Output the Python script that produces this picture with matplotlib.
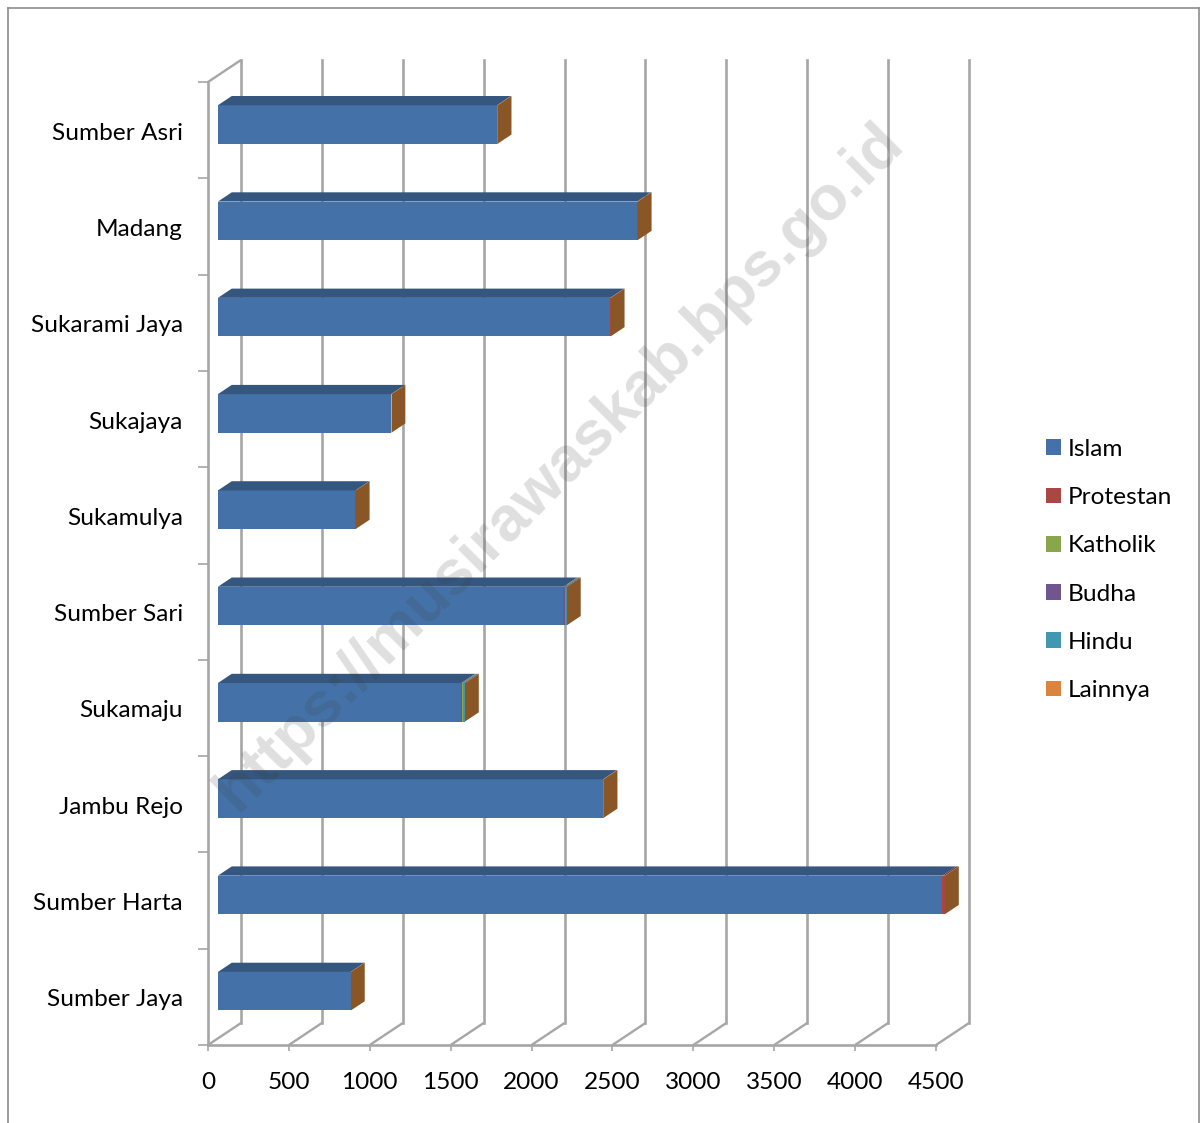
import matplotlib
matplotlib.use("Agg")
import matplotlib.pyplot as plt
from matplotlib.lines import Line2D
from matplotlib.patches import Polygon
from matplotlib.transforms import Affine2D, IdentityTransform

plt.rcParams['font.family'] = ['Lato', 'DejaVu Sans']

desa = ['Sumber Asri', 'Madang', 'Sukarami Jaya', 'Sukajaya', 'Sukamulya',
        'Sumber Sari', 'Sukamaju', 'Jambu Rejo', 'Sumber Harta', 'Sumber Jaya']
islam = [1725, 2590, 2425, 1070, 850, 2135, 1505, 2380, 4478, 820]
protestan = [3, 4, 2, 2, 1, 2, 2, 3, 15, 1]
katholik = [1, 1, 1, 1, 1, 5, 6, 1, 1, 1]
budha = [0, 0, 0, 0, 0, 5, 5, 0, 0, 0]
hindu = [0, 0, 0, 0, 0, 10, 9, 0, 0, 0]
lainnya = [0, 0, 0, 0, 0, 0, 0, 0, 0, 0]
agama = ['Islam', 'Protestan', 'Katholik', 'Budha', 'Hindu', 'Lainnya']
nilai = [islam, protestan, katholik, budha, hindu, lainnya]
warna = ['#4472a8', '#aa4644', '#8aa64d', '#70568f', '#4198af', '#db843d']
warna_atas = ['#34567f', '#803433', '#67803a', '#54406b', '#317283', '#a4632e']
warna_sisi = '#8a5625'
x_ticks = [0, 500, 1000, 1500, 2000, 2500, 3000, 3500, 4000, 4500]
abu = '#a6a6a6'

W, H = 1200, 1123
fig = plt.figure(figsize=(W / 100, H / 100), dpi=100)
ax = fig.add_axes([208 / W, 1 - 1045 / H, (936 - 208) / W, (1045 - 82) / H])
ax.set_xlim(0, 4500)
ax.set_ylim(len(desa), 0)
ax.patch.set_alpha(0)

# depth of the fake 3D box, in pixels
DX, DY = 33, 22


def geser(f):
    return Affine2D().translate(DX * f, DY * f)


def titik(v, y, f):
    px, py = ax.transData.transform((v, y))
    return px + DX * f, py + DY * f


# back wall and floor
for v in x_ticks:
    ax.plot([v, v], [0, len(desa)], color=abu, lw=1.9, transform=ax.transData + geser(1),
            clip_on=False, zorder=1)
    ax.add_patch(Polygon([titik(v, len(desa), 0), titik(v, len(desa), 1)], closed=False, fill=False,
                         ec=abu, lw=1.7, transform=IdentityTransform(), clip_on=False, zorder=1))
ax.add_patch(Polygon([titik(0, 0, 0), titik(0, 0, 1)], closed=False, fill=False, ec=abu, lw=1.7,
                     transform=IdentityTransform(), clip_on=False, zorder=1))

# stacked bars
tinggi = 0.40
f_depan, f_belakang = 0.30, 0.72
posisi = [i + 0.51 for i in range(len(desa))]
kiri = [0] * len(desa)
for nama, seri, c, c_atas in zip(agama, nilai, warna, warna_atas):
    ax.barh(posisi, seri, height=tinggi, left=kiri, color=c, label=nama, linewidth=0,
            transform=ax.transData + geser(f_depan), zorder=3, clip_on=False)
    for y, k, v in zip(posisi, kiri, seri):
        if v > 0:
            atas = y - tinggi / 2
            ax.add_patch(Polygon([titik(k, atas, f_depan), titik(k + v, atas, f_depan),
                                  titik(k + v, atas, f_belakang), titik(k, atas, f_belakang)],
                                 fc=c_atas, ec='none', transform=IdentityTransform(), zorder=3,
                                 clip_on=False))
    kiri = [k + v for k, v in zip(kiri, seri)]

for y, total in zip(posisi, kiri):
    atas, bawah = y - tinggi / 2, y + tinggi / 2
    ax.add_patch(Polygon([titik(total, atas, f_depan), titik(total, atas, f_belakang),
                          titik(total, bawah, f_belakang), titik(total, bawah, f_depan)],
                         fc=warna_sisi, ec='none', transform=IdentityTransform(), zorder=3,
                         clip_on=False))

# axes
for s in ['top', 'right']:
    ax.spines[s].set_visible(False)
for s in ['left', 'bottom']:
    ax.spines[s].set_color(abu)
    ax.spines[s].set_linewidth(1.9)
ax.set_xticks(x_ticks)
ax.tick_params(axis='x', length=4.5, width=1.2, color=abu, labelsize=17.6, pad=15, labelcolor='black')
ax.set_yticks(range(len(desa) + 1))
ax.set_yticklabels([])
ax.tick_params(axis='y', which='major', length=7.2, width=1.2, color=abu)
ax.set_yticks(posisi, minor=True)
ax.set_yticklabels(desa, minor=True)
ax.tick_params(axis='y', which='minor', length=0, labelsize=17.6, pad=18, labelcolor='black')

# legend
fig.legend(loc='upper left', bbox_to_anchor=(1036 / W, 1 - 429 / H), frameon=False, fontsize=17.6,
           handlelength=0.62, handleheight=0.62, handletextpad=0.27, labelspacing=1.115,
           borderaxespad=0)

# watermark
fig.text(560 / W, 1 - 467 / H, 'https://musirawaskab.bps.go.id', rotation=45, ha='center', va='center',
         family='Liberation Sans', weight='bold', fontsize=45.5, color='#404040', alpha=0.17, zorder=10)

# frame around the picture, bottom is cut off
for xs, ys in [([8, 8], [8, H]), ([8, 1199], [8, 8]), ([1199, 1199], [8, H])]:
    fig.add_artist(Line2D([x / W for x in xs], [1 - y / H for y in ys], color='#8c8c8c', lw=1.2))

fig.savefig('out.png', dpi=100)
